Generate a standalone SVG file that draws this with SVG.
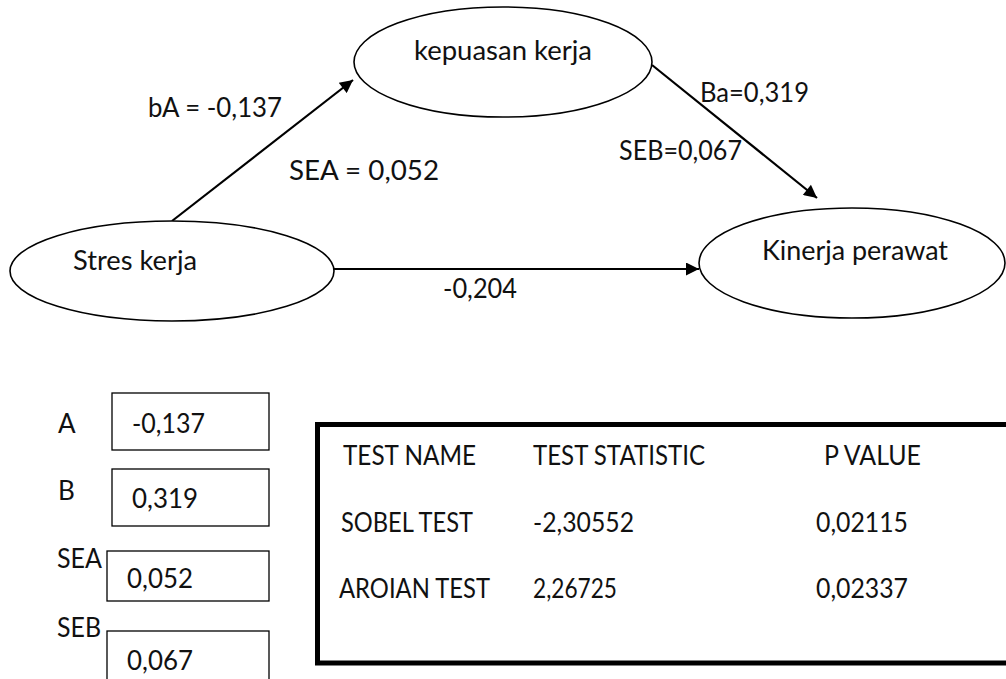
<svg xmlns="http://www.w3.org/2000/svg" width="1006" height="679" viewBox="0 0 1006 679">
  <defs>
    <marker id="arrow" viewBox="0 0 10 10" refX="10" refY="5" markerWidth="15" markerHeight="13" markerUnits="userSpaceOnUse" orient="auto">
      <path d="M0,0 L10,5 L0,10 z" fill="#000"/>
    </marker>
    <style>
      text { font-family: Lato, "Open Sans", "Liberation Sans", sans-serif; font-size: 26px; fill: #111; }
      .node ellipse { fill: #fff; stroke: #000; stroke-width: 1.6; }
      .edge { fill: none; stroke: #000; stroke-width: 2.2; marker-end: url(#arrow); }
      .box { fill: #fff; stroke: #000; stroke-width: 1.3; }
      .table { fill: #fff; stroke: #000; stroke-width: 5; }
    </style>
  </defs>
  <rect width="1006" height="679" fill="#fff"/>

  <!-- path model: connectors -->
  <g id="connectors">
    <line class="edge" x1="172" y1="221" x2="353" y2="80"/>
    <line class="edge" x1="652" y1="65" x2="817" y2="198"/>
    <line class="edge" x1="333" y1="269" x2="699" y2="269"/>
  </g>

  <g id="node-kepuasan" class="node">
    <ellipse cx="503" cy="62" rx="149" ry="55"/>
    <text x="414" y="60" textLength="178" lengthAdjust="spacingAndGlyphs">kepuasan kerja</text>
  </g>
  <g id="node-stres" class="node">
    <ellipse cx="172" cy="271" rx="162" ry="50"/>
    <text x="73" y="270" textLength="124" lengthAdjust="spacingAndGlyphs">Stres kerja</text>
  </g>
  <g id="node-kinerja" class="node">
    <ellipse cx="852" cy="263" rx="153" ry="55"/>
    <text x="762" y="260" textLength="186" lengthAdjust="spacingAndGlyphs">Kinerja perawat</text>
  </g>

  <!-- path coefficients -->
  <g id="edge-labels">
    <text x="148" y="117" textLength="134" lengthAdjust="spacingAndGlyphs">bA = -0,137</text>
    <text x="289" y="180" textLength="150" lengthAdjust="spacingAndGlyphs">SEA = 0,052</text>
    <text x="700" y="102" textLength="109" lengthAdjust="spacingAndGlyphs">Ba=0,319</text>
    <text x="619" y="160" textLength="123" lengthAdjust="spacingAndGlyphs">SEB=0,067</text>
    <text x="443" y="298" textLength="74" lengthAdjust="spacingAndGlyphs">-0,204</text>
  </g>

  <!-- input values -->
  <g id="inputs">
    <rect class="box" x="112" y="393" width="157" height="57"/>
    <text x="58" y="433">A</text>
    <text x="132" y="433" textLength="73" lengthAdjust="spacingAndGlyphs">-0,137</text>
    <rect class="box" x="112" y="469" width="157" height="57"/>
    <text x="58" y="500">B</text>
    <text x="132" y="508" textLength="66" lengthAdjust="spacingAndGlyphs">0,319</text>
    <rect class="box" x="107" y="551" width="162" height="50"/>
    <text x="57" y="568" textLength="45" lengthAdjust="spacingAndGlyphs">SEA</text>
    <text x="127" y="588" textLength="66" lengthAdjust="spacingAndGlyphs">0,052</text>
    <rect class="box" x="107" y="631" width="162" height="60"/>
    <text x="57" y="637" textLength="44" lengthAdjust="spacingAndGlyphs">SEB</text>
    <text x="127" y="670" textLength="66" lengthAdjust="spacingAndGlyphs">0,067</text>
  </g>

  <!-- Sobel test results -->
  <g id="results">
    <rect class="table" x="317.5" y="424.5" width="720" height="238.5"/>
    <text x="343" y="465" textLength="133" lengthAdjust="spacingAndGlyphs">TEST NAME</text>
    <text x="533" y="465" textLength="172" lengthAdjust="spacingAndGlyphs">TEST STATISTIC</text>
    <text x="824" y="465" textLength="97" lengthAdjust="spacingAndGlyphs">P VALUE</text>
    <text x="341" y="532" textLength="132" lengthAdjust="spacingAndGlyphs">SOBEL TEST</text>
    <text x="533" y="532" textLength="101" lengthAdjust="spacingAndGlyphs">-2,30552</text>
    <text x="816" y="532" textLength="92" lengthAdjust="spacingAndGlyphs">0,02115</text>
    <text x="339" y="598" textLength="151" lengthAdjust="spacingAndGlyphs">AROIAN TEST</text>
    <text x="533" y="598" textLength="84" lengthAdjust="spacingAndGlyphs">2,26725</text>
    <text x="816" y="598" textLength="92" lengthAdjust="spacingAndGlyphs">0,02337</text>
  </g>
</svg>
